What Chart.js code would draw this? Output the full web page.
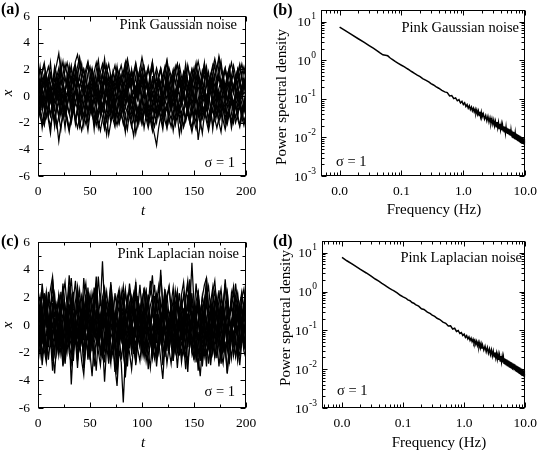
<!DOCTYPE html>
<html>
<head>
<meta charset="utf-8">
<script src="https://cdn.jsdelivr.net/npm/chart.js@4.4.1/dist/chart.umd.min.js"></script>
<style>
  html, body { margin: 0; padding: 0; background: #fff; }
  #figure { position: relative; width: 544px; height: 450px; }
  #figure canvas { position: absolute; left: 0; top: 0; }
</style>
</head>
<body>
<div id="figure">
  <canvas id="panelA" width="544" height="450"></canvas>
  <canvas id="panelB" width="544" height="450"></canvas>
  <canvas id="panelC" width="544" height="450"></canvas>
  <canvas id="panelD" width="544" height="450"></canvas>
</div>
<script>
// Axis ticks and labels
const timeTicks = [0, 50, 100, 150, 200];
const timeMinor = [25, 75, 125, 175];
const xTicks = [-6, -4, -2, 0, 2, 4, 6];
const xMinor = [-5, -3, -1, 1, 3, 5];
const freqTicks = [0.01, 0.1, 1, 10];
const freqLabels = ['0.0', '0.1', '1.0', '10.0'];
const psdTicks = [0.001, 0.01, 0.1, 1, 10];
const psdExponents = ['-3', '-2', '-1', '0', '1'];

// Pink Gaussian noise runs, one value every 2 time units, t = 0..200
const gauss1 = [0.6,1.2,0.4,0.9,1.5,0.7,0.2,1.0,0.5,-0.3,0.4,1.1,0.6,-0.2,0.3,0.9,0.1,-0.6,0.2,0.8,1.4,0.6,1.2,0.3,-0.4,0.5,1.0,0.2,0.8,1.6,0.9,0.3,1.1,0.5,-0.2,0.6,0.0,-0.7,0.1,0.7,1.3,0.5,-0.1,0.6,1.2,0.4,-0.3,0.5,1.1,0.3,0.9,1.7,1.0,0.2,0.8,0.1,-0.5,0.3,0.9,0.2,-0.4,0.4,1.0,0.5,1.3,0.6,0.0,0.7,1.4,0.8,0.1,-0.6,0.3,0.9,0.4,-0.2,0.6,1.2,0.5,1.1,0.3,-0.4,0.2,0.8,1.5,0.7,0.0,0.6,1.2,0.4,-0.3,0.5,1.0,0.2,0.8,1.4,0.6,-0.1,0.5,1.1,0.4];
const gauss2 = [-0.4,-1.1,-0.3,-0.9,-1.6,-0.8,-0.2,-1.0,-1.7,-0.9,-0.3,-1.2,-0.6,0.1,-0.5,-1.3,-2.0,-1.1,-0.4,-1.0,-0.2,-0.8,-1.5,-0.7,0.0,-0.6,-1.4,-0.9,-1.8,-1.0,-0.3,-1.1,-0.5,0.2,-0.4,-1.2,-0.7,-1.5,-2.2,-1.3,-0.6,-1.4,-0.8,-0.1,-0.9,-0.3,-1.0,-1.8,-1.1,-0.4,-1.2,-0.5,-1.3,-2.1,-1.4,-0.7,-1.5,-0.9,-0.2,-1.0,-0.4,-1.1,-0.6,-1.4,-0.8,-0.1,-0.9,-1.6,-0.8,-0.2,-1.0,-1.7,-1.0,-0.3,-1.1,-0.5,-1.3,-0.7,0.0,-0.8,-1.5,-0.9,-1.7,-1.0,-0.4,-1.2,-0.6,-1.3,-0.5,0.1,-0.7,-1.4,-0.8,-0.2,-1.0,-1.6,-0.9,-0.3,-1.1,-0.5,-1.2];
const gauss3 = [1.2,2.0,1.4,0.8,1.6,2.2,1.5,0.9,1.7,2.4,3.2,1.8,1.1,1.9,2.5,1.6,1.0,1.8,2.6,3.1,2.2,1.4,2.0,1.2,0.6,1.4,2.1,1.3,0.7,1.5,0.9,1.6,2.3,1.5,0.8,1.6,1.0,0.4,1.2,1.9,1.1,1.8,2.5,1.7,1.0,1.8,1.1,0.5,1.3,2.0,2.9,2.1,1.3,2.0,1.2,0.6,1.4,2.1,1.4,0.8,1.5,2.2,1.4,0.7,1.5,0.9,1.7,2.4,1.6,1.0,1.8,1.1,0.5,1.3,2.0,1.2,1.9,2.6,1.8,1.1,1.9,1.2,0.6,1.4,2.1,2.8,2.0,3.0,2.2,1.4,2.1,1.3,0.7,1.5,2.3,1.5,0.9,1.7,2.4,1.6,2.2];
const gauss4 = [-0.8,-1.5,-2.1,-1.3,-0.7,-1.6,-2.3,-1.4,-0.9,-2.0,-3.4,-2.2,-1.5,-0.8,-1.6,-2.4,-1.7,-1.0,-1.8,-1.1,-1.9,-2.6,-1.8,-1.2,-2.0,-1.3,-0.6,-1.4,-2.2,-1.5,-0.9,-1.7,-2.5,-1.6,-2.9,-2.0,-1.2,-1.9,-1.1,-0.5,-1.3,-2.1,-1.4,-0.8,-1.6,-2.3,-1.5,-2.8,-1.9,-1.1,-1.8,-1.0,-1.7,-2.4,-1.6,-2.2,-2.9,-3.7,-2.4,-1.5,-2.2,-1.4,-0.9,-1.6,-2.3,-1.5,-0.8,-1.5,-2.9,-1.8,-1.1,-1.9,-1.2,-2.0,-2.7,-1.8,-1.0,-3.3,-2.1,-1.4,-0.8,-1.6,-2.3,-1.5,-0.9,-1.7,-2.4,-1.6,-1.0,-1.8,-2.5,-1.7,-1.1,-1.9,-1.2,-2.0,-1.4,-0.8,-1.6,-2.2,-1.4];
const gauss5 = [0.1,-0.7,0.5,1.2,0.3,-0.5,0.4,-0.3,0.8,1.5,0.6,-0.2,0.7,0.0,-0.8,0.2,1.0,0.2,-0.6,0.4,-0.4,0.6,1.3,0.4,-0.3,0.5,-0.5,-1.2,-0.3,0.5,-0.2,0.7,1.4,0.5,-0.4,0.3,-0.6,0.2,1.0,0.1,-0.7,0.2,-0.5,0.5,1.2,0.3,-0.5,0.4,-0.3,0.7,1.4,0.5,-0.2,0.6,-0.3,-1.1,-0.2,0.6,1.3,0.4,-0.4,0.5,-0.3,0.8,0.0,-0.8,0.1,0.9,0.2,-0.6,0.3,1.1,0.4,-0.4,0.5,-0.2,0.6,1.3,0.5,-0.3,0.4,-0.5,0.3,1.0,0.2,-0.6,0.3,-0.4,0.5,1.2,0.4,-0.3,0.6,-0.2,-1.0,-0.1,0.7,0.0,0.8,1.4,0.5];
const gauss6 = [-0.2,0.5,-0.3,0.4,1.1,0.3,-0.4,0.6,1.3,0.5,1.2,1.9,1.0,0.3,1.1,1.8,0.9,1.6,2.3,1.4,0.6,1.3,0.5,-0.2,0.6,1.2,0.4,1.1,0.2,-0.5,0.3,1.0,0.2,-0.6,0.1,0.8,0.0,0.7,1.4,0.5,-0.2,0.6,1.3,0.4,1.1,1.8,0.9,0.2,1.0,1.7,0.8,0.1,0.9,0.2,-0.5,0.3,-0.4,0.4,1.0,0.2,0.9,1.6,0.7,0.0,0.8,0.1,-0.6,0.2,0.9,0.1,0.8,1.5,0.6,1.3,2.0,1.1,0.4,1.2,0.5,1.3,2.1,1.2,0.5,1.3,0.6,-0.1,0.7,1.4,0.5,1.2,0.3,-0.4,0.4,1.1,0.3,1.0,1.7,0.8,0.1,0.9,0.2];
const gauss7 = [0.2,-0.6,0.1,-0.9,-0.2,0.5,-0.3,-1.1,-0.4,0.3,-0.5,0.2,-0.7,-1.4,-0.6,0.1,-0.8,-0.1,0.6,-0.2,-1.0,-0.3,0.4,-0.4,-1.2,-0.5,0.2,-0.6,0.1,0.8,-0.1,-0.9,-0.2,0.5,-0.3,-1.1,-0.4,-1.6,-0.8,-0.1,-0.9,-0.2,0.6,-0.3,-1.0,-0.3,0.4,-0.5,-1.3,-0.6,-2.0,-1.1,-0.4,-1.2,-0.5,0.2,-0.6,-1.4,-0.7,0.0,-0.8,-0.1,0.7,-0.2,-1.0,-0.3,0.5,-0.4,-1.2,-0.5,0.2,-0.6,-1.3,-0.5,0.3,-0.5,0.2,-0.7,-1.5,-0.7,0.0,-0.8,-0.1,0.6,-0.2,-1.0,-0.3,0.4,-0.4,-1.2,-0.5,-1.8,-1.0,-0.3,-1.1,-0.4,0.3,-0.5,-1.3,-0.6,0.1];
const gauss8 = [1.8,1.0,1.7,2.3,1.5,0.8,1.6,0.9,0.2,1.0,1.7,0.9,1.6,2.4,1.6,0.8,1.5,0.7,1.4,2.2,2.9,1.9,1.2,2.0,2.6,1.7,1.0,1.8,2.5,1.6,0.9,1.7,1.0,1.8,2.4,1.5,0.8,1.6,0.9,1.7,2.3,1.5,2.2,2.8,1.9,1.1,1.8,2.5,1.6,0.9,1.6,0.8,1.5,2.2,1.3,0.6,1.4,0.7,1.5,2.1,1.3,2.0,2.7,1.8,1.0,1.7,0.9,1.6,2.3,1.4,0.7,1.5,2.2,1.4,0.8,1.6,2.3,1.5,0.9,1.7,2.4,1.5,0.8,1.6,2.3,1.4,2.1,2.8,1.9,1.2,1.9,1.1,1.8,2.5,1.6,0.9,1.7,2.4,1.6,2.2,1.5];
const gauss9 = [-1.6,-0.9,-1.7,-2.2,-1.4,-0.7,-1.5,-0.8,-1.6,-2.3,-1.5,-0.9,-1.7,-1.0,-1.8,-2.5,-1.6,-0.9,-1.7,-2.4,-1.6,-0.8,-1.5,-2.1,-1.3,-0.7,-1.4,-2.0,-1.2,-1.9,-2.6,-1.7,-1.0,-1.8,-1.1,-1.9,-1.2,-0.6,-1.4,-2.1,-1.3,-2.0,-2.6,-1.7,-1.0,-1.7,-0.9,-1.6,-2.2,-1.4,-2.1,-1.3,-0.7,-1.5,-0.8,-1.6,-2.3,-1.5,-0.9,-1.7,-1.0,-1.8,-2.4,-1.5,-0.8,-1.5,-2.2,-1.4,-0.8,-1.6,-2.3,-1.5,-0.9,-1.7,-1.0,-1.8,-2.5,-1.6,-0.9,-1.7,-1.1,-1.9,-2.6,-1.7,-1.0,-1.8,-1.1,-1.9,-1.2,-0.6,-1.4,-2.1,-1.3,-2.0,-1.2,-0.6,-1.4,-2.2,-1.4,-0.8,-1.6];
const gauss10 = [0.9,0.2,1.0,1.6,0.8,1.5,0.7,0.0,0.8,1.4,2.1,1.3,0.6,1.4,0.7,1.5,2.0,1.2,0.5,1.3,0.6,1.4,2.0,1.1,0.4,1.2,1.9,1.0,0.3,1.1,1.8,2.4,1.5,0.8,1.6,0.9,1.7,2.3,1.4,0.7,1.5,0.8,0.1,0.9,1.6,0.8,1.5,2.2,1.3,2.0,1.2,0.5,1.3,0.6,1.4,2.1,1.2,0.5,1.3,0.6,-0.1,0.7,1.4,0.6,1.3,2.0,1.1,0.4,1.2,0.5,1.3,1.9,1.1,0.4,1.2,0.5,1.3,1.9,1.0,0.3,1.1,1.8,0.9,1.6,0.8,0.1,0.9,1.6,0.8,1.5,2.1,1.2,0.5,1.3,0.6,1.4,2.0,1.1,0.4,1.2,0.7];
const gauss11 = [0.8,-0.9,0.6,-0.5,1.3,-0.2,0.9,-1.0,0.4,1.6,-0.3,0.7,-1.2,0.2,1.4,-0.4,0.8,-0.8,0.5,1.7,0.0,-1.1,0.6,1.5,-0.2,0.9,-0.7,0.3,1.2,-0.6,0.5,1.8,0.1,-0.9,0.7,-0.4,1.1,-1.3,0.2,1.0,-0.5,0.8,2.0,0.3,-0.8,0.6,1.4,-0.3,0.9,-1.0,0.4,1.3,-0.6,0.7,-0.2,1.5,0.0,-1.2,0.5,1.1,-0.4,0.8,1.9,0.2,-0.7,0.6,-0.9,0.4,1.6,-0.1,0.9,-0.6,0.3,1.3,-0.8,0.5,1.7,0.0,-1.0,0.7,-0.3,1.2,-0.7,0.4,1.5,-0.2,0.8,-1.1,0.3,1.0,-0.5,0.9,1.8,0.1,-0.9,0.6,-0.4,1.3,0.2,-0.8,0.7];
const gauss12 = [-1.2,0.3,-0.8,-2.0,-0.4,-1.5,0.2,-1.0,-2.3,-0.6,-1.6,0.0,-1.1,-2.4,-0.7,0.1,-1.3,-0.3,-1.9,-0.8,0.4,-1.2,-2.2,-0.5,-1.7,-0.1,-1.0,-2.5,-0.9,0.2,-1.4,-0.6,-2.1,-1.0,0.1,-1.5,-0.4,-2.0,-0.8,-1.6,-0.2,-1.1,-2.7,-1.3,0.0,-0.9,-1.8,-0.5,-2.2,-1.0,0.3,-1.2,-0.6,-1.9,-0.7,-2.4,-1.1,0.1,-1.4,-0.3,-1.8,-0.9,-2.3,-0.8,0.2,-1.0,-1.9,-0.4,-1.5,-2.6,-0.9,-0.1,-1.3,-2.0,-0.6,-1.6,0.1,-1.1,-2.2,-0.7,-1.5,-0.2,-1.9,-0.8,-2.5,-1.2,0.0,-1.0,-1.7,-0.5,-2.1,-0.9,0.2,-1.3,-2.0,-0.6,-1.5,-0.3,-1.8,-0.9,-1.3];
const gauss13 = [1.0,2.2,0.7,1.6,-0.1,1.2,2.5,0.9,1.8,0.4,1.4,2.6,1.0,0.2,1.5,2.3,0.8,1.9,0.5,1.3,2.7,1.1,0.3,1.6,2.4,0.7,1.5,-0.1,1.0,2.1,0.6,1.7,2.8,1.2,0.4,1.4,0.0,1.1,2.2,0.8,1.6,0.3,1.3,2.4,1.0,2.0,0.6,1.5,0.1,1.2,2.3,0.9,1.7,0.4,1.4,2.5,1.1,0.2,1.3,2.0,0.7,1.6,2.6,1.0,0.3,1.5,2.2,0.8,1.8,0.5,1.2,2.4,1.1,0.2,1.4,2.1,0.7,1.6,0.4,1.3,2.5,0.9,1.8,0.6,1.5,0.0,1.1,2.3,0.8,1.7,0.5,1.4,2.2,0.9,0.2,1.3,2.0,0.8,1.6,0.4,1.2];
const gauss14 = [-0.3,1.0,-1.1,0.4,1.5,-0.6,0.2,-1.4,0.7,-0.2,1.2,-0.9,0.3,-1.6,-0.1,1.1,-0.7,0.5,1.6,-0.4,-1.5,0.1,0.9,-0.8,0.4,-1.3,0.6,1.4,-0.5,0.3,-1.0,0.8,-0.3,1.3,-0.9,0.2,-1.7,-0.2,1.0,-0.6,0.5,-1.2,0.7,1.5,-0.4,0.1,-1.4,0.6,-0.1,1.2,-0.8,0.3,-1.5,0.0,0.9,-0.7,0.4,1.6,-0.3,-1.1,0.5,-0.5,1.1,-0.9,0.2,1.4,-0.6,0.3,-1.3,0.7,-0.2,1.0,-1.0,0.4,1.5,-0.5,0.1,-1.6,0.6,-0.3,1.2,-0.8,0.5,-1.2,0.8,1.5,-0.4,0.2,-1.1,0.7,-0.1,1.3,-0.9,0.4,-1.4,0.1,0.9,-0.6,0.5,-1.0,0.3];
const gauss15 = [-1.9,-1.0,-2.4,-1.3,-0.5,-1.8,-2.8,-1.1,-2.0,-0.7,-1.5,-2.5,-1.2,-0.6,-1.9,-2.7,-1.4,-0.8,-2.1,-1.0,-2.3,-1.5,-0.4,-1.6,-2.6,-1.3,-0.9,-2.0,-1.1,-2.4,-1.6,-0.7,-1.8,-2.9,-1.4,-0.6,-1.7,-2.3,-1.0,-2.0,-1.3,-0.5,-1.6,-2.5,-1.2,-2.1,-3.0,-1.6,-0.8,-1.9,-1.1,-2.4,-1.4,-0.6,-1.8,-2.6,-1.3,-2.0,-0.9,-1.7,-2.5,-1.1,-0.7,-2.0,-1.4,-2.6,-1.5,-0.8,-1.9,-1.2,-2.3,-1.6,-0.5,-1.7,-2.4,-1.3,-2.0,-0.9,-1.8,-2.8,-1.4,-0.6,-1.9,-1.1,-2.2,-1.5,-0.7,-2.0,-2.7,-1.3,-0.9,-1.8,-1.2,-2.4,-1.5,-0.6,-1.7,-2.3,-1.0,-1.9,-1.4];
const gauss16 = [1.5,0.6,1.9,2.5,1.2,0.4,1.7,1.0,2.2,1.4,0.5,1.8,2.6,1.3,0.7,1.6,2.3,1.0,1.9,0.8,1.5,2.4,1.1,0.4,1.7,2.2,1.3,0.6,1.9,2.7,1.4,0.8,1.6,2.3,1.1,0.5,1.8,1.0,2.1,1.5,0.6,1.4,2.5,1.2,0.7,1.9,1.3,2.3,1.0,0.4,1.6,2.2,1.2,0.6,1.8,2.6,1.3,0.8,1.5,2.0,1.0,0.3,1.4,2.1,1.5,0.7,1.9,2.4,1.1,0.6,1.7,1.0,2.3,1.4,0.5,1.6,2.5,1.2,0.8,1.9,1.3,2.2,1.0,0.4,1.5,2.4,1.1,1.8,2.6,1.4,0.7,1.6,2.1,1.0,1.8,0.6,1.5,2.2,1.2,0.5,1.7];
const gauss17 = [0.2,-0.3,0.5,0.0,-0.6,0.3,0.8,0.1,-0.4,0.4,-0.1,0.6,0.2,-0.5,0.1,0.7,0.3,-0.2,0.4,-0.5,0.0,0.6,0.1,-0.4,0.3,-0.2,0.5,0.9,0.2,-0.3,0.4,0.0,-0.6,0.2,0.6,-0.1,0.3,-0.4,0.1,0.7,0.2,-0.3,0.5,0.0,-0.5,0.2,0.6,0.1,-0.3,0.4,-0.2,0.3,0.8,0.2,-0.4,0.1,0.5,-0.1,0.3,-0.6,0.0,0.4,0.7,0.1,-0.3,0.2,-0.1,0.5,0.0,-0.5,0.3,0.6,0.1,-0.2,0.4,-0.4,0.2,0.7,0.0,-0.3,0.3,-0.1,0.6,0.2,-0.4,0.1,0.5,-0.2,0.3,0.8,0.1,-0.3,0.4,0.0,-0.5,0.2,0.6,0.0,-0.2,0.3,0.1];
const gauss18 = [-0.5,-1.2,-0.1,-0.8,0.3,-0.6,-1.4,-0.3,-0.9,0.1,-0.7,-1.5,-0.4,0.2,-0.8,-1.3,-0.2,-1.0,-0.5,0.3,-0.9,-1.6,-0.6,0.0,-1.1,-0.4,-1.2,-0.1,-0.7,-1.4,-0.3,0.2,-0.9,-1.7,-0.5,-1.1,-0.2,-0.8,0.1,-1.0,-1.5,-0.4,-0.9,0.2,-0.6,-1.3,-0.3,-1.0,-1.8,-0.6,-0.1,-0.9,-1.4,-0.4,0.3,-0.7,-1.2,-0.2,-1.0,-0.5,-1.5,-0.3,-0.8,0.1,-0.9,-1.6,-0.5,-1.1,-0.2,-0.7,-1.3,-0.4,0.2,-0.8,-1.5,-0.6,-0.1,-1.0,-0.4,-1.2,-0.7,0.0,-0.9,-1.4,-0.3,-0.8,-1.6,-0.5,0.1,-0.7,-1.2,-0.3,-1.0,-0.5,-1.3,-0.2,-0.8,0.2,-0.6,-1.1,-0.4];

// Pink Laplacian noise runs, same sampling
const lap1 = [1.2,2.1,0.8,1.9,0.6,1.5,2.6,3.5,1.4,0.5,1.8,0.7,2.2,3.1,1.3,3.6,1.6,0.4,1.7,2.8,1.1,0.3,3.4,1.5,0.6,2.0,1.0,2.7,1.2,3.5,1.4,4.6,1.3,0.2,1.6,2.9,1.1,0.5,1.9,0.8,2.4,1.2,0.3,1.5,2.6,0.9,1.8,3.0,1.1,0.4,1.7,2.5,0.8,1.6,2.2,3.6,1.0,0.3,1.4,4.0,1.2,0.6,1.9,2.7,1.0,0.2,1.5,2.4,0.9,1.8,0.6,2.1,3.2,1.3,4.5,1.5,0.5,1.8,0.7,2.0,2.9,3.4,1.2,0.4,1.6,2.5,0.9,1.7,2.6,1.1,3.3,1.4,0.6,1.9,2.8,1.0,0.3,1.5,2.4,1.1,3.0];
const lap2 = [-1.0,-2.2,-0.6,-1.8,-2.7,-1.1,-0.4,-1.9,-3.5,-1.2,-0.5,-2.1,-1.0,-2.8,-1.3,-0.6,-4.3,-1.5,-0.7,-2.3,-1.1,-2.6,-3.6,-1.4,-0.5,-2.0,-3.7,-1.3,-0.6,-1.9,-2.9,-1.2,-4.1,-1.6,-0.8,-2.4,-1.0,-3.0,-4.4,-1.8,-2.7,-5.6,-2.3,-1.1,-2.0,-3.2,-1.4,-0.5,-1.8,-2.6,-1.0,-2.3,-0.8,-1.9,-3.1,-1.3,-0.6,-2.2,-1.1,-2.5,-3.9,-1.5,-0.7,-1.8,-2.8,-1.2,-0.5,-2.0,-1.0,-2.7,-1.4,-3.2,-1.1,-0.4,-1.9,-2.5,-1.0,-2.3,-3.7,-1.6,-0.8,-2.1,-1.2,-2.9,-1.3,-0.6,-2.4,-1.1,-2.0,-2.8,-1.2,-3.5,-1.5,-0.7,-2.2,-1.0,-2.6,-1.3,-0.5,-1.9,-2.4];
const lap3 = [0.3,-1.2,0.9,-0.4,1.6,0.2,-0.9,1.1,-0.3,0.8,2.0,0.1,-1.1,0.6,-0.5,1.3,-0.2,0.7,-1.4,0.4,1.5,-0.3,0.9,2.2,0.0,-1.0,0.5,-0.6,1.2,0.2,-0.8,0.9,2.5,0.4,-0.7,1.0,-0.4,0.6,-1.6,0.3,1.4,-0.5,0.8,-0.2,1.6,0.1,-1.2,0.7,-0.3,1.1,2.0,0.2,-0.9,0.6,-0.4,1.3,0.0,-1.3,0.5,-0.2,0.9,1.8,0.1,-0.8,0.7,-0.5,1.2,-0.1,0.6,-1.1,0.4,1.5,-0.2,0.8,2.3,0.3,-0.9,0.5,-0.6,1.1,0.0,-1.2,0.7,-0.3,1.4,0.2,-0.7,0.9,-0.4,1.7,0.3,-1.0,0.6,-0.2,1.2,0.1,-0.8,0.9,-0.5,1.3,0.4];
const lap4 = [0.7,1.6,0.4,2.3,1.0,-0.2,1.3,2.0,0.6,1.5,0.3,2.4,1.1,0.2,1.4,2.8,0.9,1.7,0.5,1.2,2.5,0.8,1.6,0.1,1.3,2.2,0.7,1.5,2.9,1.0,0.2,1.8,0.9,1.6,0.4,2.1,1.2,0.0,1.1,1.9,0.6,1.4,2.6,0.9,0.2,1.5,2.3,0.8,1.7,0.5,1.2,2.7,0.9,0.1,1.4,2.0,0.7,1.6,2.8,1.0,0.3,1.5,2.2,0.6,1.3,0.0,1.0,2.4,0.8,1.5,0.4,1.8,2.9,1.1,0.3,1.6,0.8,2.0,1.2,0.2,1.4,3.4,1.0,1.7,0.5,1.3,2.1,0.7,1.5,0.3,1.1,1.9,0.8,1.6,0.6,1.4,2.3,0.9,0.2,1.3,1.8];
const lap5 = [-0.8,-1.7,-0.3,-1.3,-2.4,-0.9,-0.1,-1.5,-0.6,-2.1,-1.0,-0.2,-1.6,-2.5,-0.8,-1.4,-0.4,-1.9,-1.1,-0.3,-1.7,-0.8,-2.6,-1.2,-0.5,-1.5,-0.7,-2.0,-1.3,-0.4,-1.6,-2.3,-0.9,-1.7,-0.6,-1.4,-2.2,-1.0,-2.9,-1.4,-0.7,-1.8,-3.4,-1.5,-0.8,-1.6,-0.5,-1.9,-1.1,-0.3,-1.4,-2.2,-0.9,-1.6,-0.6,-1.8,-1.0,-2.4,-1.2,-0.4,-1.5,-2.1,-0.8,-1.7,-0.5,-1.3,-2.0,-0.9,-1.6,-0.4,-1.4,-2.3,-1.0,-0.3,-1.5,-0.8,-2.2,-1.3,-0.6,-3.0,-1.4,-0.5,-1.7,-0.9,-2.1,-1.2,-0.4,-1.6,-2.5,-0.9,-1.8,-3.5,-1.3,-0.6,-1.5,-2.2,-0.8,-1.6,-0.5,-1.4,-2.0];
const lap6 = [0.2,1.0,-0.5,0.8,1.7,0.3,-0.4,0.9,1.6,0.0,0.7,-0.8,0.5,1.4,0.1,0.9,2.0,0.4,-0.6,0.6,1.3,-0.2,0.8,0.2,1.5,-0.3,0.6,1.2,0.0,0.9,-0.5,0.5,1.8,0.3,-0.4,0.8,1.4,0.1,0.7,-0.9,0.4,1.1,-0.1,0.6,1.6,0.2,-0.5,0.9,0.0,1.3,0.4,-0.6,0.7,1.5,0.1,0.8,2.1,0.3,-0.3,0.9,0.2,1.4,-0.2,0.6,1.1,-0.4,0.5,1.7,0.2,0.9,-0.3,0.7,1.3,0.0,0.8,-0.6,0.4,1.2,0.1,0.9,1.9,0.3,-0.5,0.7,0.0,1.1,0.4,-0.2,0.8,1.5,0.2,-0.6,0.6,1.3,0.0,0.7,-0.4,0.5,1.1,0.2,0.8];
const lap7 = [-0.3,-1.1,0.4,-0.7,-1.6,-0.2,0.6,-0.9,-0.1,-1.4,0.2,-0.6,-1.9,-0.4,0.3,-0.8,-1.5,-0.1,-1.0,0.4,-0.5,-1.3,0.1,-0.7,-2.0,-0.3,0.5,-0.9,-0.2,-1.2,0.3,-0.6,-1.7,-0.4,0.2,-1.0,-0.3,-1.8,-0.6,0.1,-1.1,-0.4,-2.2,-0.8,0.0,-1.3,-0.5,0.4,-0.9,-1.6,-0.2,-1.0,0.3,-0.6,-1.4,-0.1,-0.8,-2.1,-0.5,0.2,-1.1,-0.3,-1.5,-0.7,0.1,-0.9,-0.2,-1.6,-0.4,0.3,-0.8,-1.4,-0.1,-1.0,0.4,-0.6,-1.9,-0.5,-2.6,-0.9,0.1,-1.2,-0.4,-1.7,-0.2,0.5,-0.8,-1.3,-0.3,-1.0,0.2,-0.7,-1.6,-0.2,-0.9,0.3,-0.5,-1.4,-0.6,0.1,-1.0];
const lap8 = [1.8,0.5,-0.8,1.2,2.4,0.6,-0.5,1.0,2.2,0.4,-1.0,0.8,3.0,1.1,-0.3,1.5,0.2,-1.2,0.9,2.1,0.3,-0.9,1.4,0.0,2.3,0.7,-0.6,1.2,2.6,0.5,-0.4,1.8,0.1,-1.1,0.6,1.9,0.4,-0.8,1.1,2.5,0.3,-1.0,0.9,2.0,0.2,-0.7,1.3,2.4,0.6,-0.5,1.0,-0.9,0.7,2.2,0.2,-1.3,0.8,1.6,0.0,-1.0,1.2,2.6,0.5,-0.6,1.4,0.3,-0.9,1.0,2.3,0.4,-0.8,1.1,0.1,2.0,0.6,-1.1,0.9,2.5,0.3,-0.7,1.3,0.2,-1.0,1.6,2.7,0.4,-0.5,1.2,0.0,-0.8,1.5,2.4,0.6,-0.9,1.0,2.1,0.3,-0.6,1.4,0.2,2.9];
const lap9 = [-1.7,-0.4,0.6,-1.2,-2.3,-0.5,0.4,-1.0,-2.1,-0.3,0.8,-1.3,-0.2,-2.4,-0.7,0.5,-1.1,-2.6,-0.4,0.3,-1.5,-0.6,-2.0,0.2,-0.9,-2.5,-0.3,0.6,-1.2,-0.1,-2.2,-0.8,0.4,-1.4,-2.8,-0.5,0.2,-1.0,-2.3,-0.7,0.5,-1.6,-0.2,-2.1,-0.9,0.3,-1.3,-2.7,-0.4,0.6,-1.1,-0.3,-2.0,-0.8,0.4,-1.5,-2.4,-0.6,0.2,-1.2,-0.1,-2.3,-0.9,0.5,-1.4,-2.6,-0.3,0.3,-1.0,-2.2,-0.6,0.4,-1.6,-0.2,-2.0,-0.8,0.6,-1.3,-0.4,-2.5,-0.9,0.2,-1.1,-2.3,-0.5,0.5,-1.4,-0.2,-2.1,-0.7,0.3,-1.2,-2.8,-0.6,0.4,-1.0,-2.2,-0.3,0.6,-1.5,-0.8];
const lap10 = [-0.5,0.6,1.4,-0.2,0.9,-1.0,0.3,1.2,-0.4,0.7,1.8,0.0,-0.9,0.5,1.3,-0.3,0.8,-0.7,0.4,1.5,-0.1,0.9,-1.1,0.2,1.0,-0.5,0.6,1.7,0.1,-0.8,0.7,-0.2,1.1,-0.6,0.3,1.4,-0.3,0.8,-1.2,0.5,1.2,-0.4,0.9,0.0,-1.0,0.6,1.6,-0.2,0.7,-0.9,0.4,1.3,-0.5,0.8,0.0,-1.1,0.5,1.5,-0.3,0.9,-0.6,0.2,1.1,-0.4,0.7,1.9,0.1,-0.8,0.6,-0.2,1.2,-0.7,0.4,1.4,-0.1,0.8,-1.0,0.3,1.0,-0.5,0.6,1.6,0.0,-0.9,0.5,-0.3,1.1,-0.6,0.4,1.3,-0.2,0.9,-1.1,0.3,1.2,-0.4,0.7,1.5,0.0,-0.7,0.6];
const lap11 = [0.4,-1.5,1.3,-0.2,2.2,0.1,-1.0,1.6,-0.6,0.8,-2.0,0.5,1.9,-0.4,0.9,-1.3,0.3,2.4,-0.5,0.7,-1.6,1.1,0.0,2.0,-0.8,0.6,-1.9,0.9,2.6,-0.3,0.4,-1.2,1.5,-0.1,-2.3,0.8,1.7,-0.6,0.2,-1.4,1.0,2.3,-0.2,0.6,-1.7,0.3,1.4,-0.9,2.1,0.1,-1.1,0.7,1.8,-0.5,0.2,-2.1,0.9,-0.3,1.6,0.4,-1.3,2.5,0.0,-0.8,1.2,-1.8,0.5,1.9,-0.4,0.8,-1.5,0.2,2.2,-0.7,1.0,-1.1,0.4,1.7,-2.0,0.6,-0.3,2.0,0.1,-1.4,0.9,1.5,-0.6,0.3,-1.9,1.1,-0.2,2.4,0.5,-1.2,0.8,-0.5,1.6,-1.6,0.2,1.3,-0.4];
const lap12 = [-1.4,0.2,-2.3,-0.7,1.0,-1.6,-0.3,-2.6,-0.9,0.6,-1.8,-0.4,-2.9,-1.1,0.3,-1.5,-2.2,-0.2,-1.0,-3.1,-0.8,0.4,-1.9,-0.6,-2.5,-1.2,0.1,-1.6,-3.3,-0.9,-0.1,-2.0,-1.3,0.5,-1.7,-2.8,-0.5,-1.4,-3.6,-1.0,0.0,-2.2,-1.1,-3.0,-0.7,0.2,-1.8,-2.5,-0.6,-1.5,0.4,-2.1,-1.0,-3.2,-0.8,-1.6,0.1,-2.4,-1.2,-0.3,-2.9,-1.5,0.3,-1.9,-0.7,-2.6,-1.1,-0.2,-2.0,-1.4,0.5,-1.7,-3.4,-0.9,-1.8,-0.4,-2.7,-1.2,0.2,-2.2,-1.0,-3.0,-0.6,-1.5,0.3,-2.3,-1.3,-0.5,-2.8,-1.6,0.0,-1.9,-0.8,-2.4,-1.1,0.4,-1.7,-2.2,-0.7,-1.4,-2.0];
const lap13 = [1.6,0.3,2.5,1.0,-0.2,1.9,0.7,2.9,1.3,0.1,2.2,0.8,1.7,-0.3,1.2,2.6,0.5,1.8,3.2,0.9,0.0,2.1,1.4,0.4,2.7,1.0,-0.1,1.6,3.0,0.6,1.9,0.2,1.3,2.4,0.8,1.7,0.1,2.3,1.1,-0.2,1.8,2.8,0.7,1.5,0.3,2.0,1.2,3.1,0.6,1.4,-0.1,1.9,2.5,0.9,0.2,1.6,2.9,1.1,0.4,1.8,0.7,2.4,1.3,-0.2,1.5,2.7,0.8,1.9,0.3,1.2,2.2,0.6,1.6,3.3,1.0,0.1,1.7,2.4,0.7,1.4,0.2,2.0,2.8,1.1,0.5,1.8,1.0,2.5,0.4,1.5,3.0,0.9,0.2,1.7,2.3,0.8,1.4,0.0,1.9,2.6,1.2];
const lap14 = [-0.6,0.9,-1.4,0.3,-2.0,-0.2,1.2,-0.9,0.5,-1.6,0.1,1.5,-0.7,-2.2,0.4,-0.5,1.0,-1.3,0.2,-2.5,-0.4,0.8,-1.1,1.3,-0.3,-1.8,0.6,-0.8,1.1,-1.5,0.0,-2.3,-0.6,0.9,-1.2,0.4,1.4,-0.9,-2.6,0.1,-1.0,0.7,-1.7,0.3,1.2,-0.5,-2.1,0.5,-0.8,1.0,-1.4,-0.1,1.3,-1.1,0.2,-2.4,-0.6,0.8,-1.5,0.4,1.1,-0.7,-1.9,0.2,-0.4,1.4,-1.2,0.0,-2.2,0.6,-0.9,1.0,-1.6,0.3,-0.5,1.2,-1.0,-2.3,0.1,0.8,-1.3,0.4,-0.7,1.3,-1.8,-0.2,0.9,-1.1,0.5,-2.0,-0.4,1.1,-0.9,0.2,-1.5,0.7,-0.6,1.0,-1.3,0.1,-0.8];
const lap15 = [2.0,0.9,3.0,1.4,0.4,2.4,1.1,3.3,1.6,0.5,2.2,1.0,2.8,1.3,0.2,2.0,3.4,1.2,0.6,2.5,1.5,0.3,2.1,3.0,1.0,0.5,2.3,1.4,3.5,1.1,0.4,2.0,2.7,1.2,0.6,3.1,1.5,0.3,1.9,2.6,1.0,0.7,2.3,1.3,3.0,1.6,0.4,2.1,1.2,2.9,1.0,0.5,2.4,1.4,3.2,1.8,0.6,2.2,1.1,3.6,1.5,0.3,2.0,2.8,1.2,0.6,2.5,1.3,0.4,2.2,3.1,1.1,0.5,2.6,1.5,0.8,3.0,1.4,0.3,2.1,1.2,2.7,1.0,0.6,2.4,3.2,1.3,0.5,2.0,1.1,2.9,1.6,0.4,2.3,1.2,3.0,1.5,0.7,2.2,1.0,2.6];
const lap16 = [-2.1,-0.8,-2.9,-1.3,-0.4,-2.5,-1.0,-3.3,-1.5,-0.6,-2.2,-1.1,-3.0,-1.4,-0.3,-2.0,-2.8,-1.2,-0.5,-2.6,-1.3,-0.4,-3.1,-1.6,-0.7,-2.3,-1.0,-3.0,-1.4,-0.2,-2.1,-1.2,-2.7,-0.9,-0.3,-2.4,-1.3,-3.4,-1.5,-0.6,-2.5,-1.2,-3.8,-1.7,-0.5,-2.0,-1.1,-2.9,-1.3,-0.4,-2.2,-1.0,-2.6,-1.5,-0.6,-2.4,-1.2,-3.0,-1.4,-0.3,-2.1,-1.1,-2.8,-1.6,-0.5,-2.3,-1.0,-3.1,-1.3,-0.4,-2.0,-1.2,-2.7,-1.5,-0.7,-2.5,-1.1,-3.3,-1.6,-0.5,-2.2,-1.0,-2.8,-1.3,-0.6,-2.4,-1.1,-3.0,-1.5,-0.4,-2.1,-1.2,-2.6,-1.0,-0.5,-2.3,-1.4,-2.9,-1.2,-0.6,-2.0];
const lap17 = [0.3,-0.4,0.9,-0.2,0.5,-0.8,0.2,1.0,-0.3,0.6,-0.5,0.1,0.8,-0.6,0.4,-0.1,1.1,-0.4,0.3,-0.9,0.5,0.0,0.9,-0.3,0.6,-0.7,0.2,1.2,-0.2,0.4,-0.6,0.7,-0.1,0.3,-1.0,0.5,0.9,-0.3,0.2,-0.5,0.8,0.0,-0.7,0.4,1.0,-0.2,0.6,-0.4,0.3,-0.9,0.1,0.7,-0.3,0.5,-0.6,0.9,0.1,-0.4,0.6,-0.1,1.1,-0.5,0.3,-0.8,0.4,0.0,0.8,-0.3,0.5,-0.7,0.2,1.0,-0.2,0.4,-0.5,0.7,-0.1,0.2,-0.9,0.6,0.9,-0.3,0.3,-0.6,0.8,0.1,-0.5,0.4,1.1,-0.2,0.5,-0.4,0.2,-0.8,0.6,0.0,0.9,-0.3,0.4,-0.6,0.3];
const lap18 = [-0.4,-1.3,0.2,-0.9,-1.7,-0.3,-1.1,0.1,-0.8,-1.6,-0.5,0.3,-1.2,-0.6,-1.9,-0.2,-1.0,0.2,-0.7,-1.5,-0.4,-1.1,0.0,-0.9,-2.0,-0.5,-1.3,0.1,-0.6,-1.4,-0.3,-1.0,-1.8,-0.2,-0.9,0.3,-0.7,-1.6,-0.4,-1.2,-0.1,-0.8,-1.9,-0.5,0.1,-1.1,-0.6,-1.5,-0.2,-0.9,-1.7,-0.4,0.2,-1.0,-0.5,-1.3,-0.1,-0.8,-2.0,-0.6,-1.1,0.0,-0.7,-1.4,-0.3,-1.0,-1.8,-0.5,0.1,-0.9,-0.4,-1.5,-0.2,-1.1,-0.6,-1.9,-0.3,0.2,-0.8,-1.3,-0.5,-1.0,0.0,-0.7,-1.6,-0.4,-1.2,-0.2,-0.9,-1.7,-0.5,0.1,-1.0,-0.6,-1.4,-0.3,-0.8,-1.5,-0.4,-1.1,-0.6];

const gaussianRuns = [gauss1, gauss2, gauss3, gauss4, gauss5, gauss6, gauss7, gauss8, gauss9,
  gauss10, gauss11, gauss12, gauss13, gauss14, gauss15, gauss16, gauss17, gauss18];
const laplacianRuns = [lap1, lap2, lap3, lap4, lap5, lap6, lap7, lap8, lap9,
  lap10, lap11, lap12, lap13, lap14, lap15, lap16, lap17, lap18];

// Power spectral density estimates
const freqHz = [0.01,0.012,0.015,0.02,0.025,0.03,0.035,0.04,0.045,0.05,0.055,0.06,0.065,0.07,0.08,0.09,0.1,0.11,0.12,0.13,0.14,0.15,0.16,0.18,0.2,0.22,0.25,0.28,0.3,0.33,0.36,0.4,0.45,0.5,
  0.55,0.6,0.65,0.7,0.75,0.8,0.85,0.9,0.95,1.0,
  1.05,1.1,1.15,1.2,1.25,1.3,1.35,1.4,1.45,1.5,1.55,1.6,1.65,1.7,1.75,1.8,1.85,1.9,1.95,2.0,
  2.1,2.2,2.3,2.4,2.5,2.6,2.7,2.8,2.9,3.0,3.1,3.2,3.3,3.4,3.5,3.6,3.7,3.8,3.9,4.0,4.1,4.2,4.3,4.4,4.5,4.6,4.7,4.8,4.9,5.0,
  5.1,5.2,5.3,5.4,5.5,5.6,5.7,5.8,5.9,6.0,6.1,6.2,6.3,6.4,6.5,6.6,6.7,6.8,6.9,7.0,7.1,7.2,7.3,7.4,7.5,7.6,7.7,7.8,7.9,8.0,
  8.1,8.2,8.3,8.4,8.5,8.6,8.7,8.8,8.9,9.0,9.1,9.2,9.3,9.4,9.5,9.6,9.7,9.8,9.9,10.0];
const psdGaussian = [7.2,6.0,4.8,3.6,2.9,2.4,2.05,1.78,1.55,1.38,1.34,1.30,1.16,1.06,0.92,0.82,0.74,0.68,0.62,0.575,0.53,0.495,0.465,0.41,0.375,0.335,0.30,0.27,0.248,0.228,0.207,0.188,0.166,0.151,
  0.145,0.118,0.121,0.101,0.106,0.089,0.095,0.078,0.086,0.071,
  0.079,0.063,0.071,0.057,0.066,0.053,0.061,0.049,0.057,0.046,0.054,0.042,0.051,0.040,0.048,0.037,0.046,0.035,0.044,0.033,
  0.041,0.030,0.037,0.027,0.035,0.025,0.032,0.023,0.030,0.022,0.028,0.020,0.026,0.019,0.025,0.018,0.024,0.0170,0.0225,0.0162,0.0215,0.0155,0.0205,0.0148,0.0195,0.0140,0.0188,0.0134,0.0180,0.0128,
  0.0172,0.0123,0.0168,0.0119,0.0162,0.0114,0.0156,0.0110,0.0150,0.0106,0.0146,0.0103,0.0142,0.0100,0.0137,0.0097,0.0133,0.0094,0.0129,0.0091,0.0126,0.0089,0.0122,0.0086,0.0119,0.0084,0.0115,0.0082,0.0112,0.0080,
  0.0110,0.0078,0.0107,0.0076,0.0104,0.0074,0.0102,0.0073,0.0099,0.0071,0.0097,0.0070,0.0095,0.0068,0.0093,0.0067,0.0091,0.0066,0.0089,0.0072];
const psdLaplacian = [7.6,6.2,5.0,3.7,3.0,2.5,2.1,1.85,1.62,1.46,1.32,1.20,1.12,1.06,0.92,0.80,0.73,0.68,0.61,0.58,0.52,0.50,0.46,0.42,0.36,0.345,0.295,0.27,0.245,0.228,0.205,0.19,0.163,0.152,
  0.129,0.131,0.108,0.113,0.094,0.099,0.083,0.088,0.074,0.080,
  0.066,0.073,0.060,0.068,0.055,0.063,0.051,0.059,0.047,0.055,0.044,0.052,0.041,0.049,0.038,0.047,0.036,0.044,0.034,0.042,
  0.031,0.039,0.028,0.036,0.026,0.033,0.024,0.031,0.022,0.029,0.021,0.027,0.0195,0.0255,0.0183,0.0240,0.0172,0.0228,0.0163,0.0218,0.0156,0.0208,0.0149,0.0199,0.0142,0.0190,0.0136,0.0183,0.0130,0.0176,
  0.0125,0.0169,0.0121,0.0163,0.0116,0.0157,0.0112,0.0152,0.0108,0.0147,0.0105,0.0142,0.0101,0.0138,0.0098,0.0134,0.0095,0.0130,0.0093,0.0126,0.0090,0.0123,0.0088,0.0119,0.0085,0.0116,0.0083,0.0113,0.0081,0.0110,
  0.0079,0.0107,0.0077,0.0105,0.0075,0.0102,0.0073,0.0100,0.0072,0.0097,0.0070,0.0096,0.0069,0.0094,0.0068,0.0092,0.0066,0.0090,0.0065,0.0076];

const SERIF = '"Liberation Serif", "Times New Roman", serif';
Chart.defaults.font.family = SERIF;
Chart.defaults.color = '#000';

// minor ticks 2..9 of each decade inside [min, max]
function logMinor(min, max) {
  const out = [];
  for (let e = -4; e <= 2; e++) {
    for (let k = 2; k <= 9; k++) {
      const v = k * Math.pow(10, e);
      if (v > min && v < max) out.push(v);
    }
  }
  return out;
}

// box, inward ticks on all four sides, and the free text of each panel
const framePlugin = {
  id: 'frame',
  afterDraw(chart, args, opts) {
    const ctx = chart.ctx;
    const a = chart.chartArea;
    const xs = chart.scales.x, ys = chart.scales.y;
    const L = Math.round(a.left) + 0.5, R = Math.round(a.right) - 0.5;
    const T = Math.round(a.top) + 0.5, B = Math.round(a.bottom) - 0.5;
    ctx.save();
    ctx.strokeStyle = '#000';
    ctx.lineWidth = 1;
    ctx.strokeRect(L, T, R - L, B - T);

    ctx.beginPath();
    const xMarks = (vals, len) => vals.forEach(v => {
      const p = Math.round(xs.getPixelForValue(v)) + 0.5;
      ctx.moveTo(p, B); ctx.lineTo(p, B - len);
      ctx.moveTo(p, T); ctx.lineTo(p, T + len);
    });
    const yMarks = (vals, len) => vals.forEach(v => {
      const p = Math.round(ys.getPixelForValue(v)) + 0.5;
      ctx.moveTo(L, p); ctx.lineTo(L + len, p);
      ctx.moveTo(R, p); ctx.lineTo(R - len, p);
    });
    xMarks(opts.xMajor, 5);
    xMarks(opts.xMinor, 3);
    yMarks(opts.yMajor, 5);
    yMarks(opts.yMinor, 3);
    ctx.stroke();

    ctx.fillStyle = '#000';
    if (opts.powerLabels) {
      psdTicks.forEach((v, i) => {
        const y = ys.getPixelForValue(v);
        ctx.textBaseline = 'middle';
        ctx.textAlign = 'right';
        ctx.font = '9.5px ' + SERIF;
        const ew = ctx.measureText(psdExponents[i]).width;
        ctx.fillText(psdExponents[i], a.left - 5, y - 5);
        ctx.font = '13.5px ' + SERIF;
        ctx.fillText('10', a.left - 5.5 - ew, y + 1);
      });
    }

    opts.texts.forEach(t => {
      ctx.font = t.font;
      ctx.textAlign = t.align || 'left';
      ctx.textBaseline = 'middle';
      if (t.rot) {
        ctx.save();
        ctx.translate(t.x, t.y);
        ctx.rotate(-Math.PI / 2);
        ctx.fillText(t.text, 0, 0);
        ctx.restore();
      } else {
        ctx.fillText(t.text, t.x, t.y);
      }
    });
    ctx.restore();
  }
};

function tickFont() { return { size: 13.5, family: SERIF }; }

function runDatasets(runs) {
  return runs.map(run => ({
    data: run.map((v, i) => ({ x: i * 200 / (run.length - 1), y: v })),
    borderColor: '#000',
    borderWidth: 1.25,
    pointRadius: 0,
    tension: 0,
    fill: false
  }));
}

function psdDataset(psd) {
  return [{
    data: freqHz.map((f, i) => ({ x: f, y: psd[i] })),
    borderColor: '#000',
    borderWidth: 1.5,
    pointRadius: 0,
    tension: 0,
    fill: false
  }];
}

// the y scale box takes yBox px left of the plot, the x scale box 30 px below it
function panelPadding(area, yBox) {
  return { left: area.left - yBox, top: area.top, right: 544 - area.right, bottom: 450 - area.bottom - 30 };
}

function timePanel(id, runs, area, texts) {
  return new Chart(document.getElementById(id), {
    type: 'line',
    data: { datasets: runDatasets(runs) },
    options: {
      responsive: false,
      animation: false,
      events: [],
      layout: { padding: panelPadding(area, area.left) },
      plugins: {
        legend: { display: false },
        tooltip: { enabled: false },
        frame: { xMajor: timeTicks, xMinor: timeMinor, yMajor: xTicks, yMinor: xMinor, texts: texts }
      },
      scales: {
        x: {
          type: 'linear', min: 0, max: 200,
          afterFit: s => { s.height = 30; },
          afterBuildTicks: s => { s.ticks = timeTicks.map(v => ({ value: v })); },
          grid: { display: false, drawTicks: false },
          border: { display: false },
          ticks: { padding: 7, font: tickFont(), color: '#000', maxRotation: 0, autoSkip: false }
        },
        y: {
          type: 'linear', min: -6, max: 6,
          afterFit: s => { s.width = area.left; },
          afterBuildTicks: s => { s.ticks = xTicks.map(v => ({ value: v })); },
          grid: { display: false, drawTicks: false },
          border: { display: false },
          ticks: { padding: 8, font: tickFont(), color: '#000', autoSkip: false }
        }
      }
    },
    plugins: [framePlugin]
  });
}

function psdPanel(id, psd, area, fMin, texts) {
  return new Chart(document.getElementById(id), {
    type: 'line',
    data: { datasets: psdDataset(psd) },
    options: {
      responsive: false,
      animation: false,
      events: [],
      layout: { padding: panelPadding(area, 0) },
      plugins: {
        legend: { display: false },
        tooltip: { enabled: false },
        frame: {
          xMajor: freqTicks, xMinor: logMinor(fMin, 10),
          yMajor: psdTicks, yMinor: logMinor(0.001, 20),
          powerLabels: true, texts: texts
        }
      },
      scales: {
        x: {
          type: 'logarithmic', min: fMin, max: 10,
          afterFit: s => { s.height = 30; },
          afterBuildTicks: s => { s.ticks = freqTicks.map(v => ({ value: v })); },
          grid: { display: false, drawTicks: false },
          border: { display: false },
          ticks: {
            padding: 7, font: tickFont(), color: '#000', maxRotation: 0, autoSkip: false,
            callback: (v, i) => freqLabels[i]
          }
        },
        y: {
          type: 'logarithmic', min: 0.001, max: 20,
          afterFit: s => { s.width = 0; },
          grid: { display: false, drawTicks: false },
          border: { display: false },
          ticks: { display: false }
        }
      }
    },
    plugins: [framePlugin]
  });
}

const letterFont = 'bold 16px ' + SERIF;
const noteFont = '14.5px ' + SERIF;
const titleFont = '15px ' + SERIF;
const italicFont = 'italic 15px ' + SERIF;

timePanel('panelA', gaussianRuns, { left: 38, top: 10, right: 246, bottom: 176 }, [
  { text: '(a)', x: 1, y: 10, font: letterFont },
  { text: 'Pink Gaussian noise', x: 237, y: 25, font: noteFont, align: 'right' },
  { text: 'σ = 1', x: 235, y: 163, font: noteFont, align: 'right' },
  { text: 'x', x: 8, y: 93, font: italicFont, align: 'center', rot: true },
  { text: 't', x: 143, y: 211, font: italicFont, align: 'center' }
]);

psdPanel('panelB', psdGaussian, { left: 321, top: 10, right: 528, bottom: 176 }, 0.005, [
  { text: '(b)', x: 273, y: 11, font: letterFont },
  { text: 'Pink Gaussian noise', x: 519, y: 28, font: noteFont, align: 'right' },
  { text: 'σ = 1', x: 336, y: 162, font: noteFont },
  { text: 'Power spectral density', x: 282, y: 97, font: titleFont, align: 'center', rot: true },
  { text: 'Frequency (Hz)', x: 434, y: 210, font: titleFont, align: 'center' }
]);

timePanel('panelC', laplacianRuns, { left: 38, top: 242, right: 246, bottom: 408 }, [
  { text: '(c)', x: 1, y: 242, font: letterFont },
  { text: 'Pink Laplacian noise', x: 239, y: 254, font: noteFont, align: 'right' },
  { text: 'σ = 1', x: 235, y: 392, font: noteFont, align: 'right' },
  { text: 'x', x: 8, y: 325, font: italicFont, align: 'center', rot: true },
  { text: 't', x: 143, y: 443, font: italicFont, align: 'center' }
]);

psdPanel('panelD', psdLaplacian, { left: 322, top: 241, right: 528, bottom: 408 }, 0.0047, [
  { text: '(d)', x: 273, y: 242, font: letterFont },
  { text: 'Pink Laplacian noise', x: 522, y: 258, font: noteFont, align: 'right' },
  { text: 'σ = 1', x: 337, y: 391, font: noteFont },
  { text: 'Power spectral density', x: 286, y: 318, font: titleFont, align: 'center', rot: true },
  { text: 'Frequency (Hz)', x: 439, y: 443, font: titleFont, align: 'center' }
]);
</script>
</body>
</html>
